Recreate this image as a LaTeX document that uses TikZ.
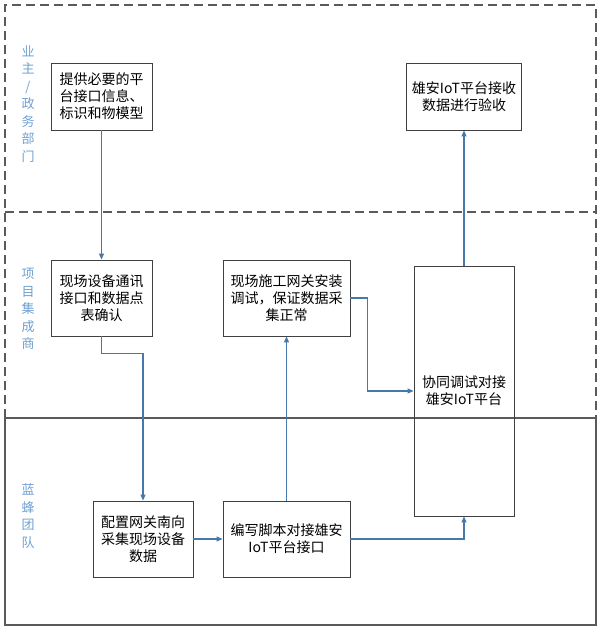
\documentclass[tikz,border=0pt]{standalone}
\usepackage{fontspec}
\setmainfont{Noto Sans CJK SC}
\usetikzlibrary{arrows.meta}
\definecolor{flowblue}{RGB}{70,120,170}
\definecolor{lanetext}{RGB}{110,160,210}
\definecolor{laneline}{RGB}{90,90,90}
\definecolor{boxline}{RGB}{64,64,64}
\tikzset{
  stepbox/.style={draw=boxline, line width=0.9pt, align=center, inner sep=0pt,
    font=\fontsize{14}{17}\selectfont},
  lanelabel/.style={text=lanetext, align=center, font=\fontsize{13}{17.5}\selectfont},
  flow/.style={draw=flowblue, line width=1.1pt, -{Triangle[length=6pt,width=5pt]}},
}
\begin{document}
\begin{tikzpicture}[x=1pt,y=-1pt]
\useasboundingbox (0,0) rectangle (600,628);
\draw[laneline, line width=1.2pt, dash pattern=on 9pt off 5pt] (5,418) -- (5,5) -- (596,5) -- (596,418);
\draw[laneline, line width=1.2pt, dash pattern=on 9pt off 5pt] (5,212) -- (596,212);
\draw[laneline, line width=1.2pt] (5,418) rectangle (596,625);
\node[lanelabel] (owner) at (28,104) {业\\主\\/\\政\\务\\部\\门};
\node[lanelabel] (integ) at (28,309) {项\\目\\集\\成\\商};
\node[lanelabel] (team) at (28,516) {蓝\\蜂\\团\\队};
\node[stepbox, minimum width=101, minimum height=67] (prov) at (101.5,96.5) {提供必要的平\\台接口信息、\\标识和物模型};
\node[stepbox, minimum width=115, minimum height=67] (accept) at (464,96.5) {雄安IoT平台接收\\数据进行验收};
\node[stepbox, minimum width=101, minimum height=76] (confirm) at (101.5,298) {现场设备通讯\\接口和数据点\\表确认};
\node[stepbox, minimum width=127, minimum height=76] (install) at (286.5,298) {现场施工网关安装\\调试，保证数据采\\集正常};
\node[stepbox, minimum width=100, minimum height=250] (joint) at (464,391) {协同调试对接\\雄安IoT平台};
\node[stepbox, minimum width=100, minimum height=76] (config) at (143,539) {配置网关南向\\采集现场设备\\数据};
\node[stepbox, minimum width=127, minimum height=76] (script) at (286.5,539) {编写脚本对接雄安\\IoT平台接口};
\draw[flow] (prov) -- (confirm);
\draw[flow] (confirm.south) -- ++(0,17) -| (config.north);
\draw[flow] (config) -- (script);
\draw[flow] (script) -- (install);
\draw[flow] (install.east) -- ++(17,0) |- (joint.west);
\draw[flow] (script.east) -| (joint.south);
\draw[flow] (joint) -- (accept);
\end{tikzpicture}
\end{document}
